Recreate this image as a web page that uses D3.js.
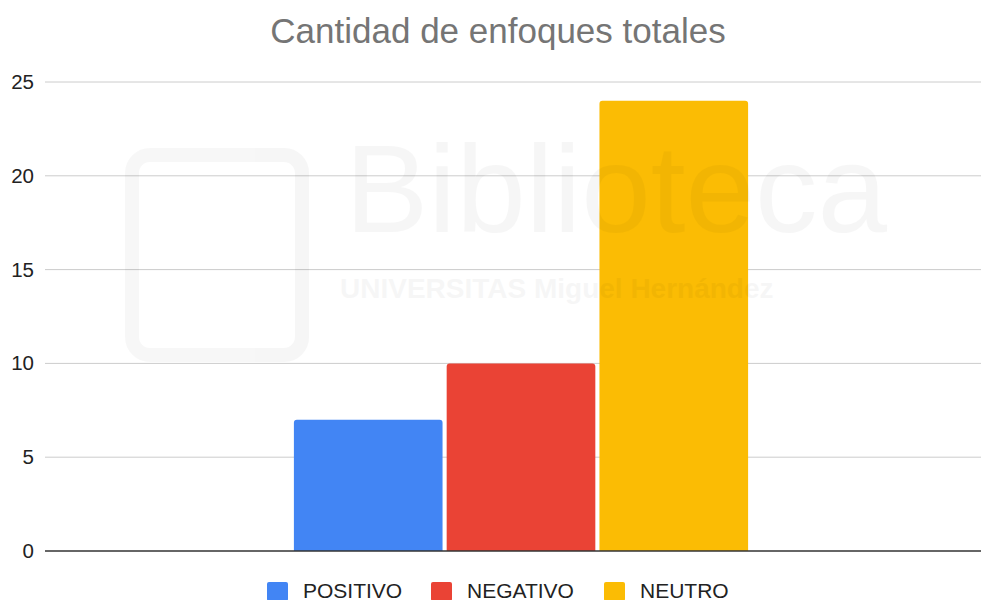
<!DOCTYPE html>
<html>
<head>
<meta charset="utf-8">
<script src="https://cdn.jsdelivr.net/npm/d3@7"></script>
<style>
  body { margin: 0; background: #fff; }
  text { font-family: Arial, "Liberation Sans", sans-serif; }
</style>
</head>
<body>
<svg width="984" height="600"></svg>
<script>
// chart values
const categories = ["Total"];
const series = ["POSITIVO", "NEGATIVO", "NEUTRO"];
const values = [7, 10, 24];
const colors = ["#4285f4", "#ea4335", "#fbbc04"];
const yTicks = [0, 5, 10, 15, 20, 25];

const svg = d3.select("svg");
const plotL = 45, plotR = 981, plotT = 82, plotB = 551;

const y = d3.scaleLinear().domain([0, 25]).range([plotB, plotT]);
const x0 = d3.scaleBand().domain(categories).range([plotL, 997]).paddingOuter(0.548);
const x1 = d3.scaleBand().domain(series).range([0, x0.bandwidth()]).paddingInner(0.027);

// title
svg.append("text")
  .attr("x", 498).attr("y", 43)
  .attr("text-anchor", "middle")
  .attr("font-size", 35)
  .attr("fill", "#757575")
  .text("Cantidad de enfoques totales");

// gridlines
svg.append("g").selectAll("line")
  .data(yTicks.filter(d => d > 0)).enter()
  .append("line")
  .attr("x1", plotL).attr("x2", plotR)
  .attr("y1", d => y(d)).attr("y2", d => y(d))
  .attr("stroke", "#cccccc").attr("stroke-width", 1);

// y labels
svg.append("g").selectAll("text")
  .data(yTicks).enter()
  .append("text")
  .attr("x", 34)
  .attr("y", d => y(d) + 7)
  .attr("text-anchor", "end")
  .attr("font-size", 20.5)
  .attr("fill", "#222")
  .text(d => d);

// bars
const r = 3;
svg.append("g").selectAll("path")
  .data(series.map((s, i) => ({ s, v: values[i], c: colors[i] }))).enter()
  .append("path")
  .attr("fill", d => d.c)
  .attr("d", d => {
    const xa = x0(categories[0]) + x1(d.s), w = x1.bandwidth();
    const ya = y(d.v), yb = y(0);
    return `M${xa},${yb}V${ya + r}Q${xa},${ya} ${xa + r},${ya}H${xa + w - r}Q${xa + w},${ya} ${xa + w},${ya + r}V${yb}Z`;
  });

// baseline
svg.append("line")
  .attr("x1", plotL).attr("x2", plotR)
  .attr("y1", y(0)).attr("y2", y(0))
  .attr("stroke", "#333").attr("stroke-width", 1.5);

// watermark (faint)
const wm = svg.append("g").attr("opacity", 0.03).attr("fill", "#000");
wm.append("rect").attr("x", 132).attr("y", 155).attr("width", 170).attr("height", 200)
  .attr("rx", 18).attr("fill", "none").attr("stroke", "#000").attr("stroke-width", 14);
wm.append("text").attr("x", 345).attr("y", 232).attr("font-size", 125).text("Biblioteca");
wm.append("text").attr("x", 340).attr("y", 298).attr("font-size", 28)
  .attr("font-family", "Liberation Serif").attr("font-weight", "bold").text("UNIVERSITAS Miguel Hernández");

// legend
const legendX = [267, 431, 604];
const lg = svg.append("g").selectAll("g")
  .data(series).enter()
  .append("g")
  .attr("transform", (d, i) => `translate(${legendX[i]},582)`);
lg.append("rect").attr("width", 21).attr("height", 19).attr("rx", 2)
  .attr("fill", (d, i) => colors[i]);
lg.append("text").attr("x", 36).attr("y", 16)
  .attr("font-size", 21).attr("fill", "#222")
  .text(d => d);
</script>
</body>
</html>
